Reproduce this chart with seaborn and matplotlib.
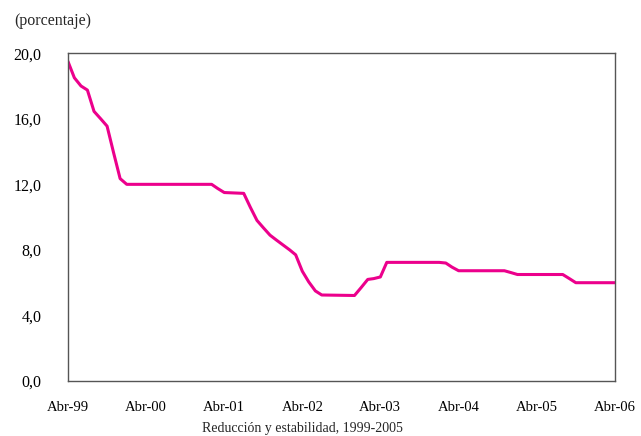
import matplotlib
matplotlib.use("Agg")
import matplotlib.pyplot as plt
import matplotlib.ticker as mticker
import pandas as pd
import seaborn as sns

# --- Data ---
dates = [
    "1999-04", "1999-05", "1999-06", "1999-07", "1999-08", "1999-09", "1999-10",
    "1999-11", "1999-12", "2000-01", "2001-02", "2001-03", "2001-04", "2001-07",
    "2001-08", "2001-09", "2001-10", "2001-11", "2001-12", "2002-01", "2002-02",
    "2002-03", "2002-04", "2002-05", "2002-06", "2002-07", "2002-12", "2003-01",
    "2003-02", "2003-03", "2003-04", "2003-05", "2004-01", "2004-02", "2004-03",
    "2004-04", "2004-11", "2004-12", "2005-01", "2005-08", "2005-09", "2005-10",
    "2006-04",
]
rate = [
    19.5, 18.5, 18.0, 17.75, 16.45, 16.0, 15.55,
    13.9, 12.35, 12.0, 12.0, 11.75, 11.5, 11.45,
    10.6, 9.8, 9.35, 8.9, 8.6, 8.3, 8.0,
    7.7, 6.7, 6.05, 5.5, 5.25, 5.22, 5.7,
    6.2, 6.25, 6.35, 7.24, 7.24, 7.2, 6.95,
    6.73, 6.73, 6.62, 6.5, 6.5, 6.25, 6.0,
    6.0,
]
y_ticks = [0, 4, 8, 12, 16, 20]
x_tick_dates = ["1999-04", "2000-04", "2001-04", "2002-04", "2003-04", "2004-04", "2005-04", "2006-04"]
x_tick_labels = ["Abr-99", "Abr-00", "Abr-01", "Abr-02", "Abr-03", "Abr-04", "Abr-05", "Abr-06"]

LINE_COLOR = "#EC008C"
AXIS_COLOR = "#555555"

sns.set_theme(style="white")
plt.rcParams["font.family"] = ["Liberation Serif", "DejaVu Serif"]

df = pd.DataFrame({"fecha": pd.to_datetime(dates), "tasa": rate})

fig = plt.figure(figsize=(6.41, 4.36), dpi=100)
ax = fig.add_axes([0.106, 0.126, 0.853, 0.752])

sns.lineplot(data=df, x="fecha", y="tasa", ax=ax, color=LINE_COLOR, linewidth=2.2)

ax.set_xlim(pd.Timestamp("1999-04-01"), pd.Timestamp("2006-04-01"))
ax.set_ylim(0, 20)
ax.set_yticks(y_ticks)
ax.yaxis.set_major_formatter(mticker.FuncFormatter(lambda v, p: f"{v:.1f}".replace(".", ",")))
ax.set_xticks(pd.to_datetime(x_tick_dates))
ax.set_xticklabels(x_tick_labels)

ax.tick_params(axis="both", direction="in", length=4, width=1, color=AXIS_COLOR, labelcolor="black")
ax.tick_params(axis="y", pad=19, labelsize=11.5)
ax.tick_params(axis="x", pad=14, labelsize=10.5)

for side in ["left", "right", "top", "bottom"]:
    ax.spines[side].set_visible(True)
    ax.spines[side].set_color(AXIS_COLOR)
    ax.spines[side].set_linewidth(1)

ax.set_xlabel("")
ax.set_ylabel("")
fig.text(302 / 641, 1 - 428 / 436, "Reducción y estabilidad, 1999-2005", fontsize=10,
         ha="center", va="center")
fig.text(0.022, 0.952, "(porcentaje)", fontsize=11.5, ha="left", va="center")

fig.savefig("out.png", dpi=100, facecolor="white")
plt.close(fig)
